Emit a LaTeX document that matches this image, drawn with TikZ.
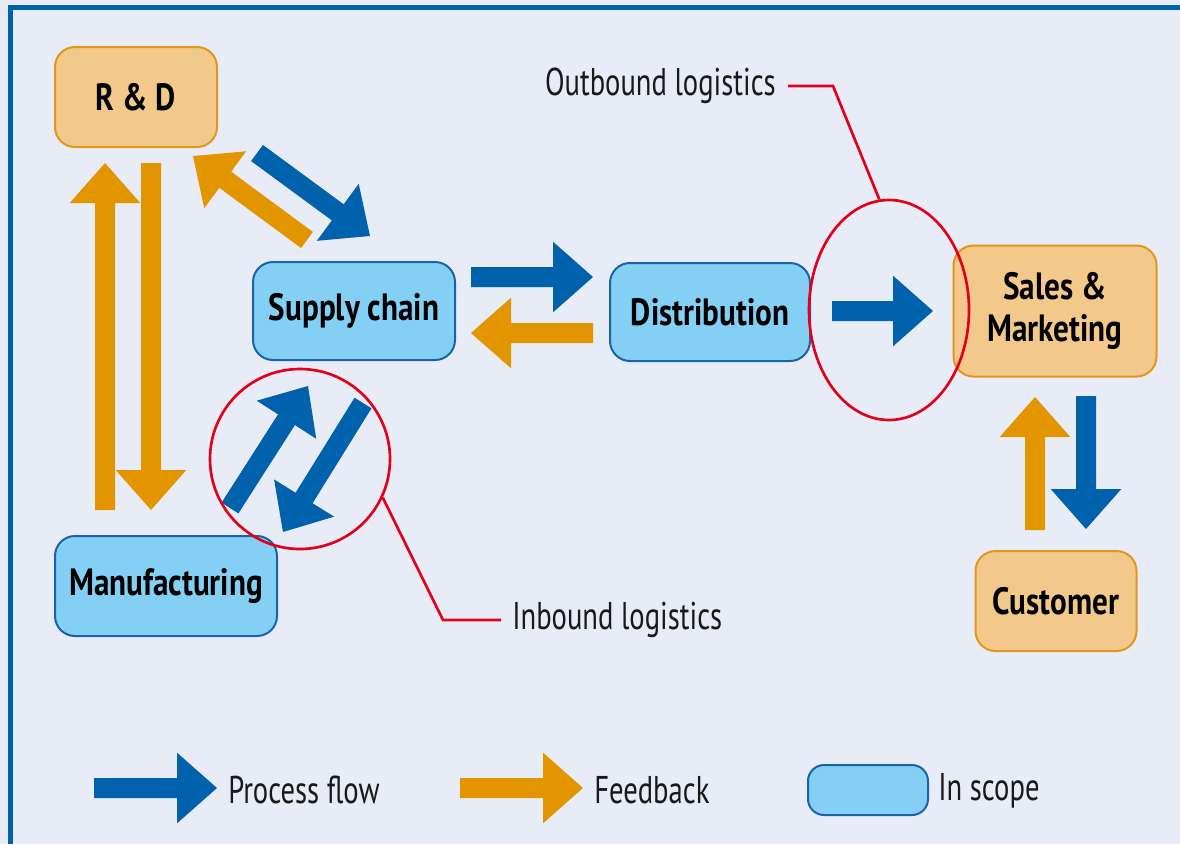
\documentclass[tikz,border=0pt]{standalone}
\usepackage{fontspec}
\setmainfont{PT Sans}[FakeStretch=0.74,BoldFeatures={FakeStretch=0.82}]
\usetikzlibrary{calc,shapes.geometric}
\definecolor{bg}{HTML}{E8ECF7}
\definecolor{frameblue}{HTML}{0062AC}
\definecolor{pblue}{HTML}{0062AC}
\definecolor{porange}{HTML}{E39500}
\definecolor{sfill}{HTML}{84CFF4}
\definecolor{sline}{HTML}{1B63A8}
\definecolor{ofill}{HTML}{F2C98B}
\definecolor{oline}{HTML}{E3961A}
\definecolor{hred}{HTML}{E2001A}
\newcommand\fatarrow[3]{%
  \coordinate (fac) at ($(#3)!30pt!(#2)$);
  \fill[#1] ($(#2)!7.5pt!90:(#3)$) -- ($(fac)!7.5pt!-90:(#2)$) -- ($(fac)!26.5pt!-90:(#2)$)
    -- (#3) -- ($(fac)!26.5pt!90:(#2)$) -- ($(fac)!7.5pt!90:(#2)$) -- ($(#2)!7.5pt!-90:(#3)$) -- cycle;}
\tikzset{
  boxbase/.style={rounded corners=15pt, line width=1.5pt, align=center, inner sep=2pt,
    font=\fontsize{28.5}{31}\selectfont\bfseries},
  inscope/.style={boxbase, draw=sline, fill=sfill},
  outscope/.style={boxbase, draw=oline, fill=ofill},
  sz/.style 2 args={minimum width=#1*0.75pt, minimum height=#2*0.75pt},
  legtext/.style={anchor=west, inner sep=0pt, text=black!90, font=\fontsize{29}{32}\selectfont},
  redline/.style={draw=hred, line width=2pt},
}
\begin{document}
\begin{tikzpicture}[x=0.75pt,y=-0.75pt]
\useasboundingbox (0,0) rectangle (1180,844);
\fill[bg] (0,0) rectangle (1180,844);
\fill[frameblue] (8,5) rectangle (1180,10);
\fill[frameblue] (8,5) rectangle (13,844);

% boxes
\node[outscope, sz={162}{100}] (rd) at (136,97) {R \& D};
\node[inscope, sz={202}{98}] (sc) at (354,311) {Supply chain};
\node[inscope, sz={200}{98}] (dist) at (710,312) {Distribution};
\node[outscope, sz={203}{131}] (sm) at (1055,311) {Sales \&\\Marketing};
\node[outscope, sz={161}{100}] (cust) at (1056,601) {Customer};
\node[inscope, sz={222}{100}] (man) at (166,586) {Manufacturing};

% arrow end points
\coordinate (a1s) at (105,510); \coordinate (a1e) at (105,163);
\coordinate (a2s) at (151,163); \coordinate (a2e) at (151,510);
\coordinate (a3s) at (307,240); \coordinate (a3e) at (193,156);
\coordinate (a4s) at (257,153); \coordinate (a4e) at (370,236);
\coordinate (a5s) at (471,277); \coordinate (a5e) at (593,277);
\coordinate (a6s) at (593,333); \coordinate (a6e) at (471,333);
\coordinate (a7s) at (832,311); \coordinate (a7e) at (933,311);
\coordinate (a8s) at (230,508); \coordinate (a8e) at (308,386);
\coordinate (a9s) at (363,403); \coordinate (a9e) at (283,532);
\coordinate (a10s) at (1035,530); \coordinate (a10e) at (1035,397);
\coordinate (a11s) at (1086,396); \coordinate (a11e) at (1086,529);
\coordinate (l1s) at (94,788); \coordinate (l1e) at (217,788);
\coordinate (l2s) at (460,788); \coordinate (l2e) at (583,788);

\fatarrow{porange}{a1s}{a1e}
\fatarrow{porange}{a2s}{a2e}
\fatarrow{porange}{a3s}{a3e}
\fatarrow{pblue}{a4s}{a4e}
\fatarrow{pblue}{a5s}{a5e}
\fatarrow{porange}{a6s}{a6e}
\fatarrow{pblue}{a7s}{a7e}
\fatarrow{pblue}{a8s}{a8e}
\fatarrow{pblue}{a9s}{a9e}
\fatarrow{porange}{a10s}{a10e}
\fatarrow{pblue}{a11s}{a11e}
\fatarrow{pblue}{l1s}{l1e}
\fatarrow{porange}{l2s}{l2e}

% legend
\node[legtext] (lpf) at (228,790) {Process flow};
\node[legtext] (lfb) at (594,790) {Feedback};
\node[inscope, sz={120}{50}, rounded corners=12pt] (lbox) at (868,790) {};
\node[legtext] (lis) at (938,791) {In scope};

% red highlights
\node[circle, redline, minimum size=135pt, inner sep=0pt] (inb) at (300,459) {};
\node[ellipse, redline, minimum width=120pt, minimum height=165pt, inner sep=0pt] (outb) at (889,310) {};
\node[legtext] (linb) at (512,620) {Inbound logistics};
\node[legtext, anchor=east] (loutb) at (776,86) {Outbound logistics};
\coordinate (ci) at (443,620);
\coordinate (co) at (833,86);
\draw[redline] (inb.-25) -- (ci) -- ($(linb.west)+(-11,0)$);
\draw[redline] (outb.95) -- (co) -- ($(loutb.east)+(12,0)$);
\end{tikzpicture}
\end{document}
